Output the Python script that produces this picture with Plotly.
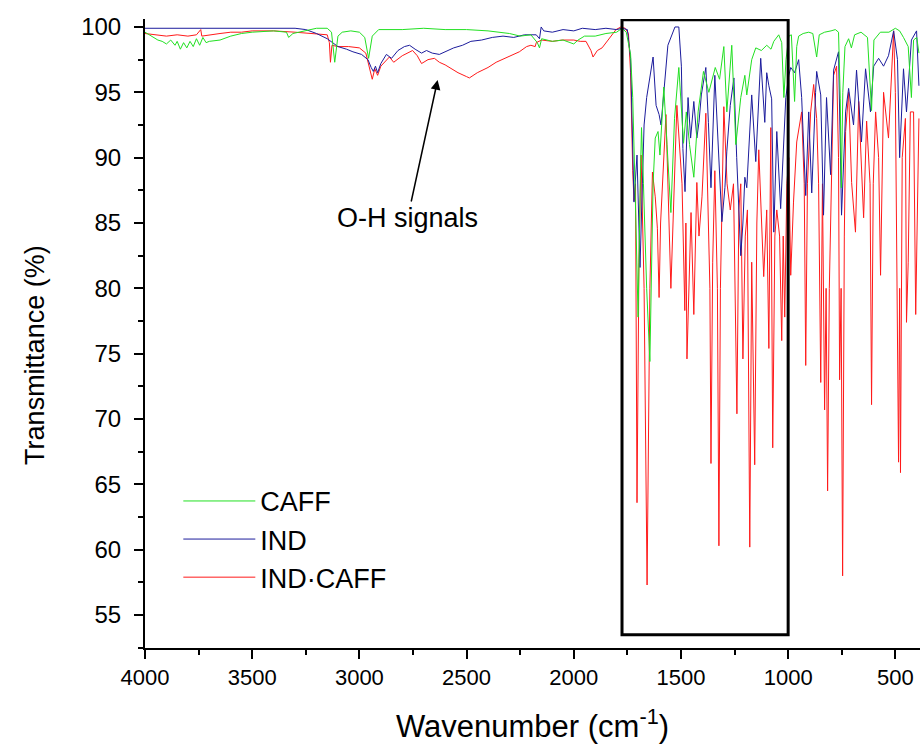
import plotly.graph_objects as go

# ---------------- data ----------------
caff_wn = [4000, 3970, 3940, 3920, 3900, 3880, 3860, 3850, 3835, 3820, 3805, 3790, 3775, 3760, 3745, 3730,
           3715, 3700, 3650, 3600, 3550, 3500, 3400, 3340, 3330, 3310, 3250, 3200, 3150, 3130, 3115, 3100,
           3080, 3040, 3000, 2975, 2957, 2940, 2910, 2800, 2700, 2600, 2500, 2400, 2300, 2250, 2200, 2170,
           2160, 2150, 2100, 2050, 2000, 1980, 1950, 1900, 1850, 1800, 1775, 1755,
           1735, 1725, 1710, 1700, 1690, 1684, 1675, 1660, 1645, 1630, 1620, 1607, 1598, 1580, 1565, 1547,
           1530, 1510, 1495, 1488, 1475, 1460, 1440, 1420, 1395, 1370, 1340, 1320, 1300, 1286, 1263, 1244,
           1221, 1202, 1193, 1170, 1151, 1125, 1100, 1080, 1067, 1044, 1030, 1020, 1010, 997, 985, 970,
           960, 951, 930, 904, 885, 867, 855, 830, 800, 780, 765, 757, 752, 745, 735, 718, 705, 690, 660,
           630, 611, 600, 570, 530, 500, 480, 462, 440, 425, 415, 400, 390]
caff_t = [99.6, 99.3, 99.0, 98.9, 98.7, 99.0, 98.6, 98.9, 98.3, 98.8, 98.4, 98.9, 98.5, 99.1, 98.6, 99.2,
          98.8, 98.9, 99.0, 99.3, 99.5, 99.6, 99.7, 99.6, 99.2, 99.5, 99.7, 99.9, 99.9, 99.6, 97.3, 99.3,
          99.6, 99.7, 99.6, 99.2, 97.6, 99.3, 99.8, 99.8, 99.9, 99.8, 99.8, 99.7, 99.5, 99.3, 99.4, 98.8,
          98.4, 99.1, 98.9, 99.0, 98.7, 99.0, 99.3, 99.3, 99.5, 99.6, 99.9, 99.6,
          97.9, 94.6, 85.0, 77.8, 88.0, 92.3, 88.0, 80.0, 74.4, 88.0, 91.5, 92.0, 90.2, 95.4, 91.0, 85.8,
          93.0, 96.9, 93.0, 91.1, 93.5, 91.0, 88.5, 93.5, 96.6, 95.0, 96.9, 96.0, 98.5, 93.5, 98.6, 91.0,
          94.6, 96.3, 94.8, 97.5, 98.4, 98.2, 98.6, 98.3, 98.9, 99.4, 98.8, 94.6, 97.5, 99.3, 99.4, 94.3,
          98.5, 99.3, 99.5, 99.6, 99.5, 97.7, 99.4, 99.6, 99.7, 99.8, 99.6, 94.5, 87.7, 95.0, 98.5, 99.1,
          98.4, 99.4, 99.6, 99.2, 93.6, 99.0, 99.6, 99.6, 99.9, 99.7, 99.2, 98.5, 94.6, 99.0, 99.2, 98.0]

ind_wn = [4000, 3500, 3300, 3250, 3200, 3150, 3100, 3060, 3030, 2990, 2960, 2945, 2935, 2925, 2915, 2900,
          2874, 2850, 2820, 2790, 2766, 2740, 2710, 2687, 2660, 2627, 2600, 2560, 2519, 2480, 2430, 2380,
          2330, 2280, 2230, 2175, 2160, 2152, 2140, 2100, 2050, 2000, 1960, 1900, 1850, 1800, 1775, 1750,
          1735, 1719, 1705, 1691, 1680, 1672, 1660, 1630, 1616, 1602, 1593, 1575, 1561, 1528, 1510, 1498,
          1491, 1481, 1467, 1455, 1440, 1426, 1416, 1405, 1384, 1372, 1360, 1342, 1323, 1309, 1295, 1286,
          1270, 1253, 1240, 1221, 1211, 1202, 1193, 1170, 1151, 1128, 1109, 1100, 1090, 1077, 1067, 1053,
          1035, 1011, 997, 988, 970, 951, 937, 918, 904, 890, 872, 867, 848, 835, 821, 802, 788, 765, 751,
          732, 718, 695, 681, 658, 639, 616, 601, 578, 555, 532, 508, 490, 480, 462, 448, 425, 401, 390]
ind_t = [99.9, 99.9, 99.9, 99.8, 99.5, 99.1, 98.5, 98.3, 98.1, 97.9, 97.5, 96.9, 96.6, 97.0, 96.5, 97.2,
         97.9, 97.6, 98.2, 98.5, 98.6, 98.3, 98.0, 98.2, 98.0, 97.9, 98.1, 98.4, 98.6, 98.9, 99.0, 99.2,
         99.3, 99.2, 99.4, 99.4, 99.1, 100.0, 99.7, 99.6, 99.8, 99.7, 99.9, 99.8, 99.9, 99.8, 99.9, 99.8,
         97.6, 86.6, 90.2, 81.6, 88.0, 92.5, 94.6, 97.7, 94.0, 93.3, 92.5, 96.0, 98.6, 100.0, 100.0, 97.0,
         90.7, 87.4, 94.6, 91.5, 94.3, 91.5, 92.7, 94.8, 96.9, 92.7, 87.7, 96.3, 89.7, 85.1, 87.7, 90.5,
         94.0, 96.1, 90.0, 82.5, 85.0, 88.5, 87.7, 94.8, 89.7, 97.6, 92.7, 96.5, 95.5, 94.5, 84.3, 92.0,
         86.1, 94.6, 96.3, 96.9, 96.5, 97.5, 94.6, 87.1, 93.5, 87.3, 95.0, 96.6, 94.8, 85.6, 94.6, 88.7, 96.7, 98.1, 85.6,
         93.5, 95.3, 92.5, 96.7, 91.2, 96.8, 93.5, 97.0, 97.6, 97.0, 97.8, 99.7, 97.5, 90.0, 96.8, 93.5, 99.0, 99.7, 95.5]

indcaff_wn = [4000, 3960, 3900, 3850, 3800, 3760, 3740, 3735, 3700, 3650, 3600, 3550, 3500, 3400, 3300,
              3200, 3150, 3140, 3135, 3128, 3100, 3050, 3000, 2970, 2955, 2940, 2928, 2915, 2900, 2860, 2840,
              2800, 2752, 2730, 2710, 2680, 2650, 2627, 2600, 2580, 2540, 2500, 2487, 2450, 2400, 2362, 2320,
              2290, 2254, 2220, 2200, 2180, 2175, 2150, 2100, 2054, 2000, 1970, 1943, 1920, 1910, 1890, 1868,
              1840, 1803, 1780, 1760, 1745,
              1735, 1725, 1719, 1712, 1705, 1696, 1686, 1672, 1658, 1645, 1633, 1620, 1610, 1602, 1595, 1570,
              1547, 1519, 1495, 1482, 1477, 1472, 1453, 1440, 1426, 1416, 1402, 1384, 1365, 1360, 1352, 1342,
              1330, 1323, 1316, 1300, 1285, 1270, 1255, 1239, 1230, 1221, 1211, 1200, 1190, 1179, 1170, 1156,
              1146, 1137, 1114, 1100, 1090, 1081, 1072, 1062, 1053, 1040, 1030, 1023, 1016, 1006, 997, 988,
              975, 960, 937, 925, 918, 910, 895, 881, 867, 858, 848, 840, 830, 823, 816, 808, 802, 788, 774,
              765, 760, 753, 746, 738, 732, 718, 704, 686, 671, 648, 634, 618, 611, 603, 592, 578, 569, 560,
              555, 532, 520, 508, 500, 485, 480, 476, 468, 453, 448, 440, 430, 415, 405, 395, 390]
indcaff_t = [99.5, 99.4, 99.3, 99.4, 99.3, 99.4, 99.8, 99.3, 99.4, 99.5, 99.6, 99.6, 99.7, 99.7, 99.6,
             99.5, 99.4, 98.8, 97.3, 98.6, 98.5, 98.5, 98.4, 98.0, 97.0, 96.0, 96.8, 96.3, 97.0, 97.7, 97.3,
             97.8, 98.2, 97.8, 97.2, 97.5, 97.6, 97.3, 97.1, 96.9, 96.5, 96.2, 96.1, 96.5, 96.9, 97.3, 97.6,
             97.8, 98.1, 98.5, 98.6, 98.5, 98.8, 99.0, 98.9, 99.0, 99.0, 98.9, 98.9, 98.2, 97.7, 98.2, 98.4,
             99.0, 99.8, 100.0, 99.9, 99.5,
             96.5, 89.0, 86.7, 88.0, 63.6, 82.0, 90.2, 80.0, 57.3, 80.0, 88.9, 87.0, 84.6, 79.3, 85.0, 93.3,
             80.0, 94.0, 88.0, 78.3, 85.0, 74.6, 85.8, 78.0, 88.1, 84.0, 87.0, 93.4, 80.0, 66.6, 82.0, 89.0,
             80.0, 60.3, 80.0, 93.9, 88.0, 86.0, 88.0, 70.4, 86.0, 88.0, 74.6, 84.0, 86.0, 60.2, 82.0, 66.5,
             85.0, 90.6, 80.9, 86.0, 75.4, 92.3, 67.8, 84.0, 86.0, 84.0, 76.0, 84.0, 77.8, 88.0, 90.0, 81.0,
             86.6, 91.2, 93.5, 88.0, 74.1, 88.0, 93.5, 95.6, 93.0, 88.0, 72.8, 88.0, 70.7, 80.0, 64.5, 80.0, 85.6, 96.3, 97.0,
             90.0, 73.0, 80.0, 58.0, 84.0, 92.0, 95.0, 88.1, 84.3, 94.3, 85.4, 92.8, 88.0, 71.1, 88.0, 93.5, 90.0, 81.0, 92.0,
             95.0, 91.5, 96.0, 99.7, 95.0, 66.7, 80.0, 65.9, 90.0, 93.0, 77.4, 82.0, 93.5, 93.5, 78.0, 88.0, 93.0]

series_names = ["CAFF", "IND", "IND\u00b7CAFF"]
x_ticks = [4000, 3500, 3000, 2500, 2000, 1500, 1000, 500]
y_ticks = [55, 60, 65, 70, 75, 80, 85, 90, 95, 100]

FONT = "Liberation Sans, Arial, Helvetica, sans-serif"

fig = go.Figure()
fig.add_trace(go.Scatter(x=indcaff_wn, y=indcaff_t, mode="lines", name=series_names[2],
                         line=dict(color="#FF1A1A", width=1), legendrank=3))
fig.add_trace(go.Scatter(x=ind_wn, y=ind_t, mode="lines", name=series_names[1],
                         line=dict(color="#1C1C9C", width=1), legendrank=2))
fig.add_trace(go.Scatter(x=caff_wn, y=caff_t, mode="lines", name=series_names[0],
                         line=dict(color="#22E022", width=1), legendrank=1))

fig.add_shape(type="rect", xref="x", yref="y", x0=1775, x1=1000, y0=53.5, y1=100.55,
              line=dict(color="black", width=3), fillcolor="rgba(0,0,0,0)")

fig.add_annotation(x=2635, y=95.94, xref="x", yref="y", text="O-H signals", showarrow=True,
                   ax=-30, ay=138, arrowhead=2, arrowsize=1.3, arrowwidth=1.5, arrowcolor="black",
                   font=dict(family=FONT, size=27, color="black"))

# y-axis title placed like the reference (slightly below the plot centre)
fig.add_annotation(xref="paper", yref="paper", x=0, y=0.466, xshift=-110, xanchor="center", yanchor="middle",
                   text="Transmittance (%)", textangle=-90, showarrow=False,
                   font=dict(family=FONT, size=27, color="black"))

fig.update_layout(
    width=924, height=751,
    margin=dict(l=145, r=4, t=19, b=103),
    plot_bgcolor="white", paper_bgcolor="white",
    font=dict(family=FONT, color="black"),
    legend=dict(x=0.043, y=0.272, xanchor="left", yanchor="top", font=dict(family=FONT, size=27),
                itemwidth=72, bgcolor="rgba(0,0,0,0)", tracegroupgap=0),
    xaxis=dict(range=[4000, 385], tickmode="array", tickvals=x_ticks,
               showline=True, linecolor="black", linewidth=2, ticks="outside", ticklen=9, tickwidth=2,
               tickcolor="black", showgrid=False, zeroline=False,
               minor=dict(dtick=250, tick0=0, ticks="outside", ticklen=5, tickwidth=1.5, tickcolor="black"),
               tickfont=dict(family=FONT, size=22),
               title=dict(text="Wavenumber (cm<sup>-1</sup>)", font=dict(family=FONT, size=31), standoff=26)),
    yaxis=dict(range=[52.48, 100.61], tickmode="array", tickvals=y_ticks,
               showline=True, linecolor="black", linewidth=2, ticks="outside", ticklen=9, tickwidth=2,
               tickcolor="black", showgrid=False, zeroline=False, ticklabelstandoff=8,
               minor=dict(dtick=2.5, tick0=0, ticks="outside", ticklen=5, tickwidth=1.5, tickcolor="black"),
               tickfont=dict(family=FONT, size=24)),
)

fig.write_html("out.html")
